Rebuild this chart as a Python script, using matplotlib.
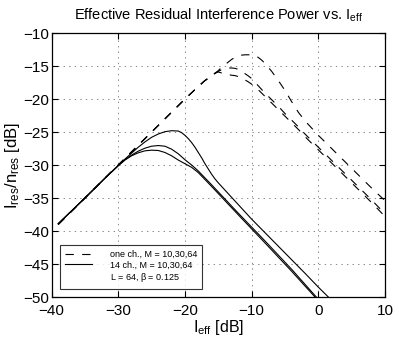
import matplotlib
matplotlib.use("Agg")
import matplotlib.pyplot as plt
from matplotlib.lines import Line2D

plt.rcParams['font.family'] = ['Liberation Sans', 'DejaVu Sans']
plt.rcParams['mathtext.fontset'] = 'custom'
plt.rcParams['mathtext.rm'] = 'Liberation Sans'
plt.rcParams['mathtext.it'] = 'Liberation Sans'
plt.rcParams['lines.scale_dashes'] = False

######### data (I_eff [dB], I_res/n_res [dB]) #########
# one channel, M = 10, 30, 64 (dashed)
x_one_a = [-39, -35, -30, -25, -20, -18, -17, -16, -15.5, -15, -14.5, -14, -13.5, -13, -12.5, -12,
           -11.5, -11, -10.5, -10, -9.5, -9, -8.5, -8, -7.5, -7, -6.5, -6, -5, -4, -3, -2, -1, 0,
           2, 4, 6, 8, 10]
y_one_a = [-39, -35, -30, -25, -20, -18.1, -17.2, -16.5, -16.1, -15.7, -15.2, -14.8, -14.4, -14.0, -13.7,
           -13.5, -13.35, -13.3, -13.3, -13.3, -13.4, -13.7, -14.1, -14.6, -15.2, -15.8, -16.5, -17.2,
           -18.7, -20.4, -22.0, -23.3, -24.4, -25.5, -27.5, -29.5, -31.5, -33.5, -35.4]
x_one_b = [-39, -35, -30, -25, -20, -18, -17, -16, -15.5, -15, -14.5, -14, -13.5, -13, -12.5, -12,
           -11.5, -11, -10.5, -10, -9, -8, -7, -6, -5, -4, -3, -2, -1, 0, 2, 4, 6, 8, 10]
y_one_b = [-39, -35, -30, -25, -20, -18.1, -17.2, -16.5, -16.1, -15.8, -15.55, -15.4, -15.3, -15.3,
           -15.35, -15.5, -15.8, -16.15, -16.5, -16.9, -18.0, -19.1, -20.1, -21.1, -22.2, -23.2,
           -24.2, -25.3, -26.3, -27.3, -29.3, -31.3, -33.3, -35.3, -37.4]
x_one_c = [-39, -35, -30, -25, -20, -18, -17, -16, -15.5, -15, -14.5, -14, -13.5, -13, -12.5, -12,
           -11.5, -11, -10.5, -10, -9, -8, -7, -6, -5, -4, -3, -2, -1, 0, 2, 4, 6, 8, 10]
y_one_c = [-39, -35, -30, -25, -20, -18.1, -17.2, -16.5, -16.1, -15.9, -16.05, -16.2, -16.3, -16.4,
           -16.45, -16.6, -16.8, -17.1, -17.4, -17.75, -18.6, -19.6, -20.6, -21.6, -22.6, -23.6,
           -24.6, -25.7, -26.7, -27.7, -29.7, -31.7, -33.7, -35.7, -37.8]

# 14 channels, M = 10, 30, 64 (solid)
x_14_a = [-39, -35, -32, -30, -29, -28, -27, -26, -25, -24, -23, -22, -21, -20.5, -20, -19.5, -19,
          -18.5, -18, -17.5, -17, -16.5, -16, -15.5, -15, -14, -13, -12, -10, -6, -2, 0, 1.5]
y_14_a = [-38.9, -35, -32, -30.05, -29.1, -28.2, -27.3, -26.5, -25.8, -25.3, -24.95, -24.8, -24.85,
          -25.1, -25.5, -26.0, -26.6, -27.3, -28.1, -28.9, -29.8, -30.6, -31.4, -32.1, -32.7, -33.8,
          -34.9, -36.0, -38.2, -42.3, -46.4, -48.5, -50.0]
x_14_b = [-39, -35, -32, -30, -29, -28, -27, -26, -25, -24, -23, -22, -21, -20, -19, -18, -16, -12,
          -8, -4, -0.3]
y_14_b = [-38.9, -35, -32, -30.1, -29.2, -28.5, -27.9, -27.45, -27.15, -27.05, -27.15, -27.6, -28.3,
          -29.2, -30.0, -30.9, -33.0, -37.3, -41.5, -45.8, -50.0]
x_14_c = [-39, -35, -32, -30, -29, -28, -27, -26, -25, -24, -23, -22, -21, -20, -19, -18, -16, -12,
          -8, -4, -0.5]
y_14_c = [-38.9, -35, -32, -30.1, -29.25, -28.6, -28.15, -27.85, -27.75, -27.8, -28.1, -28.6, -29.25,
          -29.8, -30.35, -31.15, -33.25, -37.55, -41.8, -46.1, -50.0]

legend_labels = ['one ch., M = 10,30,64', '14 ch., M = 10,30,64', r'L = 64, $\beta$ = 0.125']
x_ticks = [-40, -30, -20, -10, 0, 10]
y_ticks = [-50, -45, -40, -35, -30, -25, -20, -15, -10]
###########################################################################

fig = plt.figure(figsize=(3.99, 3.44), dpi=100)
ax = fig.add_axes([0.1293, 0.1366, 0.8356, 0.7674])

dash = (6, 6)
for xs, ys in [(x_one_a, y_one_a), (x_one_b, y_one_b), (x_one_c, y_one_c)]:
    ax.plot(xs, ys, color='black', lw=0.8, dashes=dash)
for xs, ys in [(x_14_a, y_14_a), (x_14_b, y_14_b), (x_14_c, y_14_c)]:
    ax.plot(xs, ys, color='black', lw=0.8)

ax.set_xlim(-40, 10)
ax.set_ylim(-50, -10)
ax.set_xticks(x_ticks)
ax.set_yticks(y_ticks)
ax.tick_params(direction='in', top=True, right=True, labelsize=11, length=4, width=0.8, pad=2)
ax.tick_params(axis='x', pad=5)
ax.grid(True, linestyle=(0, (1, 3)), color='#888888', lw=0.7)
for s in ax.spines.values():
    s.set_linewidth(0.9)

ax.set_title(r'Effective Residual Interference Power vs. I$_{\rm eff}$', fontsize=10.5, pad=10)
ax.set_xlabel(r'I$_{\rm eff}$ [dB]', fontsize=11.5, labelpad=0)
ax.set_ylabel(r'I$_{\rm res}$/n$_{\rm res}$ [dB]', fontsize=12, labelpad=1)

handles = [Line2D([], [], color='black', lw=0.8, dashes=dash),
           Line2D([], [], color='black', lw=0.8),
           Line2D([], [], color='none')]
leg = ax.legend(handles, legend_labels, loc='lower left', bbox_to_anchor=(0.025, 0.03),
                fontsize=6.5, frameon=True, fancybox=False, handlelength=3.0, handletextpad=1.9,
                borderpad=0.6, labelspacing=0.15, borderaxespad=0)
leg.get_frame().set_edgecolor('black')
leg.get_frame().set_linewidth(0.8)

fig.savefig('out.png', dpi=100)
